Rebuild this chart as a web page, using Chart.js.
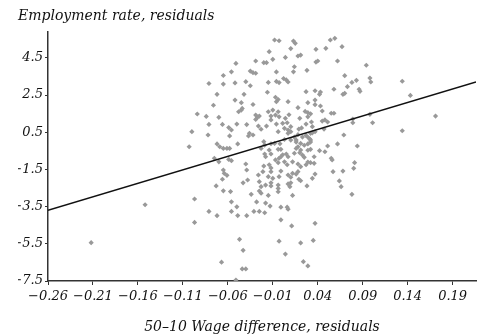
<!DOCTYPE html>
<html><head><meta charset="utf-8">
<script src="https://cdn.jsdelivr.net/npm/chart.js@4.4.1/dist/chart.umd.min.js"></script>
<style>html,body{margin:0;padding:0;background:#fff}#wrap{width:480px;height:336px;position:relative}</style>
</head><body><div id="wrap"><canvas id="c"></canvas></div>
<script>
const xTicks = [-0.26, -0.21, -0.16, -0.11, -0.06, -0.01, 0.04, 0.09, 0.14, 0.19];
const yTicks = [-7.5, -5.5, -3.5, -1.5, 0.5, 2.5, 4.5];
const yAxisTitle = 'Employment rate, residuals';
const xAxisTitle = '50\u201310 Wage difference, residuals';

const wageGap = [
-0.008,-0.003,0.013,0.015,0.054,0.059,0.067,-0.014,0.010,0.038,0.049,0.018,0.021,-0.029,-0.020,-0.017,-0.010,0.004,0.038,0.040,
0.062,0.094,0.014,0.013,0.028,-0.035,-0.032,-0.029,-0.006,0.070,-0.051,-0.065,-0.056,-0.081,-0.065,-0.052,-0.040,-0.035,-0.015,-0.006,
-0.003,0.002,0.005,0.007,0.098,0.099,0.078,0.083,0.073,0.134,-0.072,-0.042,-0.016,0.027,0.037,0.042,0.043,0.058,0.068,0.070,
0.086,0.087,-0.052,-0.045,-0.076,-0.032,-0.007,-0.006,-0.004,0.007,0.143,0.037,0.029,0.037,0.043,0.018,-0.048,-0.045,-0.044,-0.094,
-0.084,-0.070,-0.029,-0.027,-0.025,-0.029,-0.015,-0.010,-0.012,-0.007,-0.004,-0.003,0.004,0.026,0.029,0.045,0.055,0.058,0.020,0.029,
0.098,0.171,0.008,0.032,-0.081,-0.066,-0.059,-0.056,-0.050,-0.039,-0.026,-0.023,-0.017,-0.012,-0.006,0.001,0.003,-0.004,0.007,0.006,
0.010,0.019,0.022,0.027,0.033,0.034,0.045,0.048,0.051,0.047,0.079,0.079,0.101,0.134,-0.100,-0.082,-0.058,-0.037,-0.036,-0.032,
0.010,0.032,0.034,0.037,0.069,0.007,0.018,0.027,0.014,0.023,0.031,0.003,0.010,0.016,-0.008,-0.020,0.029,-0.103,-0.072,-0.069,
-0.065,-0.061,-0.058,-0.049,-0.023,-0.012,-0.002,0.021,0.032,0.029,-0.019,-0.004,-0.001,-0.014,0.018,0.016,0.021,0.051,0.062,0.084,
0.032,-0.019,-0.018,-0.012,0.005,0.007,-0.001,0.020,0.023,0.025,0.042,0.048,0.036,0.055,0.056,0.081,-0.007,-0.004,-0.003,0.003,
0.006,-0.020,-0.014,-0.012,0.018,0.021,0.027,0.029,0.032,0.036,-0.040,0.080,-0.075,-0.070,-0.059,-0.056,0.012,0.014,-0.039,-0.065,
-0.064,-0.061,-0.066,-0.026,-0.021,-0.015,-0.012,-0.010,-0.003,-0.001,0.007,0.010,0.012,0.016,0.018,0.019,0.021,0.028,0.034,0.037,
0.057,0.068,0.064,0.066,0.078,-0.043,-0.038,-0.025,-0.023,-0.018,-0.012,-0.012,-0.004,-0.004,0.007,0.009,0.010,-0.034,-0.025,-0.023,
-0.015,0.012,-0.073,-0.065,-0.057,-0.004,-0.097,-0.097,-0.081,-0.072,-0.056,-0.050,-0.056,-0.049,-0.039,-0.028,-0.018,-0.013,-0.001,0.006,
0.007,-0.031,-0.025,-0.019,-0.001,0.011,0.037,-0.047,-0.043,-0.003,0.021,0.035,0.004,0.024,0.029,-0.044,-0.040,-0.067,-0.051,-0.212,
-0.152,0.032,0.016,0.025,0.029,0.001
];
const employment = [
5.46,5.42,5.40,5.28,5.46,5.55,5.10,4.83,5.00,4.96,5.01,4.60,4.65,4.33,4.24,4.24,4.42,4.52,4.27,4.33,
4.33,4.10,4.02,3.75,3.83,3.79,3.70,3.67,3.74,3.54,4.20,3.55,3.75,3.12,3.09,3.15,3.22,3.00,3.18,3.23,
3.17,3.39,3.31,3.20,3.41,3.20,3.18,3.29,2.95,3.24,2.54,2.54,2.65,2.68,2.73,2.54,2.66,2.81,2.54,2.59,
2.81,2.70,2.23,2.09,1.95,1.99,2.38,2.14,2.26,2.14,2.48,2.23,2.09,1.98,1.91,1.82,1.60,1.69,1.78,1.48,
1.35,1.30,1.42,1.30,1.37,1.19,1.60,1.69,1.37,1.42,1.60,1.33,1.25,1.62,1.55,1.64,1.52,1.52,1.25,1.33,
1.46,1.37,1.44,1.49,0.92,0.92,0.75,0.62,0.94,0.91,0.83,0.66,0.83,1.16,0.94,0.98,0.71,0.53,0.62,1.01,
0.80,0.67,0.73,0.94,1.05,0.80,1.10,1.16,1.05,0.67,1.21,1.01,1.01,0.58,0.53,0.35,0.30,0.30,0.44,0.35,
0.53,0.44,0.47,0.53,0.35,0.44,0.37,0.33,0.24,0.24,0.15,0.11,0.08,0.08,-0.10,-0.01,0.23,-0.28,-0.13,-0.28,
-0.37,-0.37,-0.37,-0.13,-0.37,-0.12,-0.12,-0.10,0.08,-0.13,-0.19,-0.42,-0.42,-0.46,-0.28,-0.37,-0.46,-0.24,-0.13,-0.24,
-0.42,-0.67,-0.82,-0.67,-0.67,-0.82,-0.82,-0.60,-0.73,-0.85,-0.49,-0.55,-0.82,-0.90,-0.99,-1.14,-0.99,-1.14,-0.90,-1.09,
-1.25,-1.32,-1.25,-1.42,-1.21,-1.35,-1.25,-1.10,-1.14,-1.17,-1.21,-1.44,-0.90,-1.09,-0.96,-1.03,-1.09,-0.63,-1.53,-1.53,
-1.71,-1.82,-2.03,-1.80,-1.62,-1.89,-1.62,-1.98,-1.89,-1.59,-1.80,-1.92,-1.71,-1.75,-1.62,-2.03,-2.11,-2.39,-1.98,-1.75,
-1.62,-1.59,-2.12,-2.43,-2.84,-2.22,-2.07,-2.16,-2.43,-2.34,-2.22,-2.39,-2.34,-2.52,-2.28,-2.43,-2.22,-2.84,-2.66,-2.78,
-2.90,-2.90,-2.39,-2.65,-2.69,-2.70,-3.09,-4.35,-3.76,-3.99,-3.24,-3.51,-3.76,-3.98,-3.99,-3.25,-3.31,-3.47,-3.53,-3.53,
-3.64,-3.76,-3.76,-3.83,-4.21,-4.54,-4.40,-5.26,-5.85,-5.36,-5.45,-5.32,-6.05,-6.46,-6.69,-6.85,-6.85,-6.49,-7.45,-5.44,
-3.40,-0.03,-0.03,-0.20,-0.47,-0.71
];
const fitX = [-0.26, 0.216];
const fitY = [-3.70, 3.20];

const FONT = 'DejaVu Serif';
const fmt = (v, d) => (v < 0 ? '\u2212' : '') + Math.abs(v).toFixed(d);

const points = wageGap.map((x, i) => ({x: x, y: employment[i]}));
const fitLine = fitX.map((x, i) => ({x: x, y: fitY[i]}));

new Chart(document.getElementById('c'), {
  type: 'scatter',
  data: {
    datasets: [
      {label: 'Fit', data: fitLine, showLine: true, borderColor: '#111', borderWidth: 1.4, pointRadius: 0, order: 0},
      {label: 'States', data: points, pointStyle: 'rectRot', pointRadius: 2.6, backgroundColor: '#999999', borderWidth: 0, order: 1}
    ]
  },
  options: {
    responsive: true, maintainAspectRatio: false, animation: false, devicePixelRatio: 1,
    layout: {padding: {left: 18, right: 0, top: 0, bottom: 0}},
    plugins: {
      legend: {display: false}, tooltip: {enabled: false},
      title: {display: true, text: yAxisTitle, align: 'start', color: '#111',
        font: {family: FONT, size: 14, style: 'italic', weight: 'normal'}, padding: {top: 8, bottom: 7}}
    },
    scales: {
      x: {
        type: 'linear', min: -0.26, max: 0.216,
        afterBuildTicks: s => { s.ticks = xTicks.map(v => ({value: v})); },
        afterFit: s => { s.height = 55; s.paddingLeft = 0; s.paddingRight = 0; },
        ticks: {autoSkip: false, maxRotation: 0, padding: 4, color: '#111',
          font: {family: FONT, size: 13, style: 'italic'}, callback: v => fmt(v, 2)},
        grid: {drawOnChartArea: false, drawTicks: true, tickLength: 4, color: '#333'},
        border: {display: true, color: '#333', width: 1.5},
        title: {display: true, text: xAxisTitle, color: '#111',
          font: {family: FONT, size: 14, style: 'italic'}, padding: {top: 4, bottom: 0}}
      },
      y: {
        type: 'linear', min: -7.5, max: 5.9,
        afterBuildTicks: s => { s.ticks = yTicks.map(v => ({value: v})); },
        afterFit: s => { s.width = 30; s.paddingTop = 0; s.paddingBottom = 0; },
        ticks: {padding: 2, color: '#111', font: {family: FONT, size: 13, style: 'italic'}, callback: v => fmt(v, 1)},
        grid: {drawOnChartArea: false, drawTicks: true, tickLength: 3, color: '#333'},
        border: {display: true, color: '#333', width: 1.5}
      }
    }
  }
});
</script></body></html>
